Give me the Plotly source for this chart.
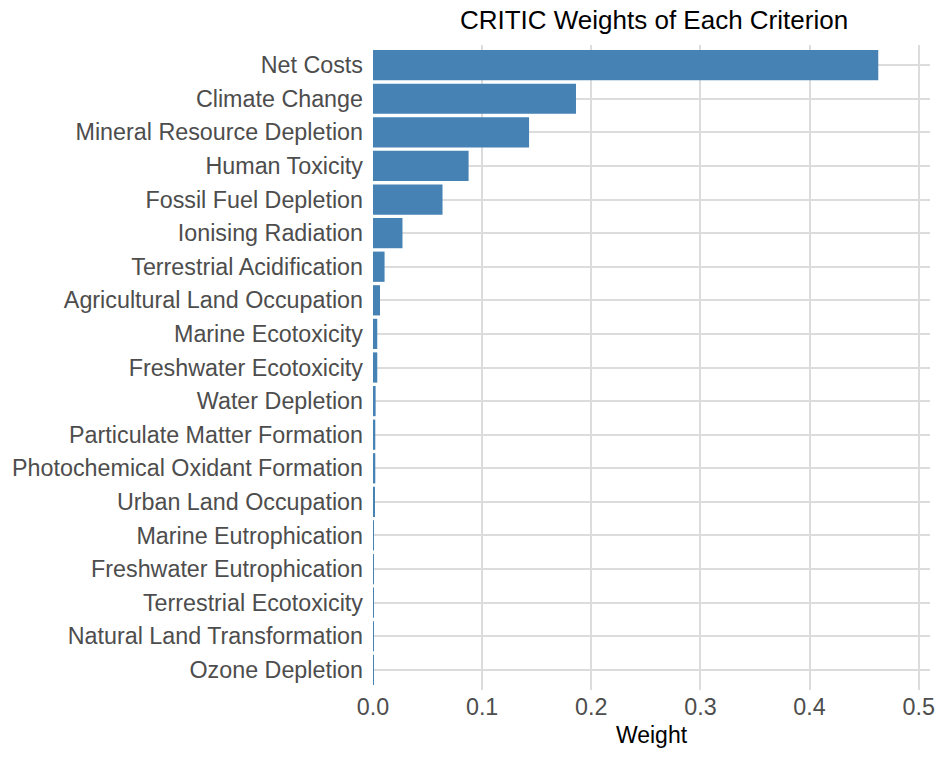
import plotly.graph_objects as go

criteria = [
    "Net Costs", "Climate Change", "Mineral Resource Depletion", "Human Toxicity",
    "Fossil Fuel Depletion", "Ionising Radiation", "Terrestrial Acidification",
    "Agricultural Land Occupation", "Marine Ecotoxicity", "Freshwater Ecotoxicity",
    "Water Depletion", "Particulate Matter Formation", "Photochemical Oxidant Formation",
    "Urban Land Occupation", "Marine Eutrophication", "Freshwater Eutrophication",
    "Terrestrial Ecotoxicity", "Natural Land Transformation", "Ozone Depletion",
]
weights = [
    0.463, 0.186, 0.143, 0.0876, 0.0637, 0.027, 0.0106,
    0.0064, 0.0039, 0.0039, 0.0024, 0.0021, 0.0021,
    0.0012, 0.0002, 0.0001, 0.0001, 0.0001, 0.0001,
]
x_ticks = [0.0, 0.1, 0.2, 0.3, 0.4, 0.5]
x_tick_labels = ["0.0", "0.1", "0.2", "0.3", "0.4", "0.5"]

font_family = "Liberation Sans, Arial, Helvetica, sans-serif"

W, H = 947, 757

fig = go.Figure(go.Bar(
    x=weights, y=criteria, orientation="h",
    marker=dict(color="#4682B4", line=dict(width=0)),
    width=0.9,
))

fig.update_layout(
    width=W, height=H,
    margin=dict(l=372, r=13, t=45, b=67),
    paper_bgcolor="white", plot_bgcolor="white",
    font=dict(family=font_family),
    showlegend=False,
    title=dict(text="CRITIC Weights of Each Criterion", x=654 / W,
               xanchor="center", y=1 - 20 / H, yanchor="middle",
               font=dict(size=26, color="black", family=font_family)),
    xaxis=dict(
        range=[0, 0.5104], tickvals=x_ticks, ticktext=x_tick_labels,
        showgrid=True, gridcolor="#dcdcdc", gridwidth=1.6, zeroline=False,
        showline=False, ticks="", ticklabelstandoff=1,
        tickfont=dict(size=23.3, color="#4d4d4d"),
        title=dict(text="Weight", font=dict(size=23, color="black"), standoff=7),
    ),
    yaxis=dict(
        categoryorder="array", categoryarray=criteria[::-1],
        range=[-0.6, len(criteria) - 0.4],
        showgrid=True, gridcolor="#dcdcdc", gridwidth=1.6, zeroline=False,
        showline=False, ticks="", ticklabelstandoff=9,
        tickfont=dict(size=23.3, color="#4d4d4d"),
    ),
)

fig.write_html("out.html", config={"displayModeBar": False},
               post_script="document.body.style.margin='0px';")
